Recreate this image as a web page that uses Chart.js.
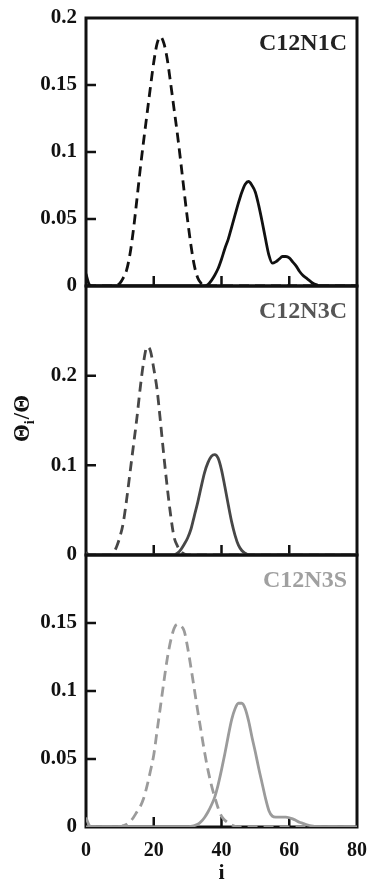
<!DOCTYPE html>
<html>
<head>
<meta charset="utf-8">
<title>Theta_i / Theta distributions</title>
<script src="https://cdn.jsdelivr.net/npm/chart.js@4.4.1/dist/chart.umd.min.js"></script>
<style>
  html, body { margin: 0; padding: 0; background: #fff; }
  body { width: 368px; height: 879px; position: relative; overflow: hidden; }
  canvas { position: absolute; left: 0; }
</style>
</head>
<body>
<canvas id="panel1" width="368" height="300" style="top:0px"></canvas>
<canvas id="panel2" width="368" height="297" style="top:272px"></canvas>
<canvas id="panel3" width="368" height="346" style="top:541px"></canvas>
<script>
// ---- data ----
const xTicks = [0, 20, 40, 60, 80];
const xInnerTicks = [20, 40, 60];

// C12N1C
const p1Ticks = [0, 0.05, 0.1, 0.15, 0.2];
const p1DashI = [0, 8, 9, 10, 11, 12, 13, 14, 15, 16, 17, 18, 19, 20, 21, 22, 23, 24, 25, 26, 27, 28, 29, 30, 31, 32, 33, 34, 35, 80];
const p1DashV = [0, 0, 0.0005, 0.002, 0.006, 0.012, 0.024, 0.042, 0.064, 0.087, 0.108, 0.128, 0.148, 0.167, 0.181, 0.186, 0.181, 0.169, 0.151, 0.132, 0.113, 0.092, 0.070, 0.049, 0.030, 0.015, 0.006, 0.002, 0, 0];
const p1SolidI = [0, 1, 2, 35, 36, 37, 38, 39, 40, 41, 42, 43, 44, 45, 46, 47, 48, 49, 50, 51, 52, 53, 54, 55, 56, 57, 58, 59, 60, 61, 62, 63, 64, 65, 66, 67, 68, 69, 80];
const p1SolidV = [0.009, 0.001, 0, 0, 0.001, 0.004, 0.008, 0.013, 0.020, 0.028, 0.035, 0.044, 0.053, 0.062, 0.070, 0.076, 0.078, 0.075, 0.070, 0.060, 0.048, 0.035, 0.023, 0.017, 0.018, 0.020, 0.022, 0.022, 0.021, 0.018, 0.015, 0.011, 0.008, 0.006, 0.004, 0.002, 0.001, 0, 0];

// C12N3C
const p2Ticks = [0, 0.1, 0.2];
const p2DashI = [0, 7, 8, 9, 10, 11, 12, 13, 14, 15, 16, 17, 18, 19, 20, 21, 22, 23, 24, 25, 26, 27, 28, 29, 30, 80];
const p2DashV = [0, 0, 0.002, 0.009, 0.020, 0.036, 0.062, 0.092, 0.122, 0.152, 0.186, 0.215, 0.232, 0.228, 0.208, 0.184, 0.148, 0.110, 0.075, 0.044, 0.020, 0.010, 0.004, 0.001, 0, 0];
const p2SolidI = [0, 1, 26, 27, 28, 29, 30, 31, 32, 33, 34, 35, 36, 37, 38, 39, 40, 41, 42, 43, 44, 45, 46, 47, 48, 80];
const p2SolidV = [0.003, 0, 0, 0.002, 0.006, 0.012, 0.019, 0.029, 0.044, 0.059, 0.076, 0.092, 0.103, 0.110, 0.112, 0.108, 0.095, 0.076, 0.056, 0.037, 0.022, 0.011, 0.005, 0.002, 0, 0];

// C12N3S
const p3Ticks = [0, 0.05, 0.1, 0.15];
const p3DashI = [0, 10, 11, 12, 13, 14, 15, 16, 17, 18, 19, 20, 21, 22, 23, 24, 25, 26, 27, 28, 29, 30, 31, 32, 33, 34, 35, 36, 37, 38, 39, 40, 41, 42, 43, 44, 45, 80];
const p3DashV = [0, 0, 0.001, 0.002, 0.004, 0.007, 0.011, 0.015, 0.021, 0.030, 0.041, 0.053, 0.071, 0.089, 0.107, 0.124, 0.137, 0.146, 0.149, 0.148, 0.144, 0.132, 0.117, 0.101, 0.085, 0.070, 0.055, 0.042, 0.031, 0.022, 0.014, 0.008, 0.005, 0.003, 0.0015, 0.0005, 0, 0];
const p3SolidI = [0, 1, 2, 30, 31, 32, 33, 34, 35, 36, 37, 38, 39, 40, 41, 42, 43, 44, 45, 46, 47, 48, 49, 50, 51, 52, 53, 54, 55, 56, 57, 58, 59, 60, 61, 62, 63, 64, 65, 66, 67, 68, 69, 70, 80];
const p3SolidV = [0.007, 0.001, 0, 0, 0.0005, 0.001, 0.002, 0.004, 0.007, 0.011, 0.016, 0.022, 0.031, 0.042, 0.054, 0.067, 0.079, 0.087, 0.091, 0.091, 0.087, 0.078, 0.066, 0.055, 0.043, 0.032, 0.021, 0.012, 0.008, 0.0072, 0.0072, 0.0072, 0.0072, 0.0068, 0.006, 0.0048, 0.0035, 0.0027, 0.0018, 0.0011, 0.0006, 0.0003, 0.0001, 0, 0];

const SERIF = '"Liberation Serif", "Times New Roman", serif';
Chart.defaults.font.family = SERIF;
Chart.defaults.font.weight = 'bold';
Chart.defaults.color = '#111';

// frame, inward tick marks, panel label and (panel 2 only) y title
const panelDecor = {
    id: 'panelDecor',
    beforeDatasetsDraw(chart, args, opts) {
        const { ctx, chartArea: a, scales } = chart;
        ctx.save();
        ctx.strokeStyle = '#111';
        ctx.lineWidth = 2.5;
        ctx.beginPath();
        xInnerTicks.forEach(v => {
            const px = scales.x.getPixelForValue(v);
            ctx.moveTo(px, a.bottom);
            ctx.lineTo(px, a.bottom - 10);
        });
        scales.y.ticks.forEach(t => {
            if (t.value === 0 || t.value >= scales.y.max) return;
            const py = scales.y.getPixelForValue(t.value);
            ctx.moveTo(a.left, py);
            ctx.lineTo(a.left + 10, py);
        });
        ctx.stroke();
        ctx.lineWidth = 3;
        ctx.strokeRect(a.left, a.top, a.right - a.left, a.bottom - a.top);
        ctx.restore();
    },
    afterDraw(chart, args, opts) {
        const { ctx, chartArea: a } = chart;
        ctx.save();
        ctx.font = 'bold 24px ' + SERIF;
        ctx.fillStyle = opts.labelColor;
        ctx.textAlign = 'right';
        ctx.textBaseline = 'middle';
        ctx.fillText(opts.label, a.right - 10, a.top + 26);

        if (opts.yTitle) {
            // Θ_i/Θ, rotated
            const big = 'bold 23px ' + SERIF;
            const small = 'bold 14px ' + SERIF;
            ctx.fillStyle = '#111';
            ctx.translate(23, (a.top + a.bottom) / 2 - 2);
            ctx.rotate(-Math.PI / 2);
            ctx.textAlign = 'left';
            ctx.font = big;
            const w1 = ctx.measureText('Θ').width;
            const w3 = ctx.measureText('/Θ').width;
            ctx.font = small;
            const w2 = ctx.measureText('i').width + 1;
            let x = -(w1 + w2 + w3) / 2;
            ctx.font = big;
            ctx.fillText('Θ', x, 0);
            x += w1;
            ctx.font = small;
            ctx.fillText('i', x, 7);
            x += w2;
            ctx.font = big;
            ctx.fillText('/Θ', x, 0);
        }
        ctx.restore();
    }
};

function makeSet(xs, ys, color, dashed) {
    return {
        data: xs.map((x, k) => ({ x: x, y: ys[k] })),
        borderColor: color,
        borderWidth: 2.8,
        borderDash: dashed ? [10, 6] : [],
        pointRadius: 0,
        fill: false,
        cubicInterpolationMode: 'monotone'
    };
}

function createPanel(id, sets, yMax, yTicks, label, labelColor, showX, padding, yTitle) {
    const ctx = document.getElementById(id);
    return new Chart(ctx, {
        type: 'line',
        data: { datasets: sets },
        options: {
            responsive: false,
            animation: false,
            layout: { padding: padding },
            plugins: {
                legend: { display: false },
                tooltip: { enabled: false },
                panelDecor: { label: label, labelColor: labelColor, yTitle: yTitle }
            },
            scales: {
                x: {
                    type: 'linear',
                    min: 0,
                    max: 80,
                    display: showX,
                    afterBuildTicks: s => { s.ticks = xTicks.map(v => ({ value: v })); },
                    afterFit: s => {
                        s.height = showX ? 60 : 0;
                        s.paddingLeft = 0;
                        s.paddingRight = 0;
                    },
                    grid: { display: false, drawTicks: false },
                    border: { display: false },
                    ticks: { font: { size: 20, weight: 'bold' }, color: '#111', padding: 12, maxRotation: 0 },
                    title: { display: true, text: 'i', font: { size: 22, weight: 'bold' }, color: '#111', padding: { top: 0, bottom: 0 } }
                },
                y: {
                    type: 'linear',
                    min: 0,
                    max: yMax,
                    afterBuildTicks: s => { s.ticks = yTicks.map(v => ({ value: v })); },
                    afterFit: s => {
                        s.width = 86;
                        s.paddingTop = 0;
                        s.paddingBottom = 0;
                    },
                    grid: { display: false, drawTicks: false },
                    border: { display: false },
                    ticks: { font: { size: 21, weight: 'bold' }, color: '#111', padding: 9, callback: v => String(v) }
                }
            }
        },
        plugins: [panelDecor]
    });
}

const c1 = '#111111', c2 = '#474747', c3 = '#9b9b9b';

createPanel('panel1',
    [makeSet(p1DashI, p1DashV, c1, true), makeSet(p1SolidI, p1SolidV, c1, false)],
    0.2, p1Ticks, 'C12N1C', '#222222', false, { top: 18, bottom: 14, left: 0, right: 11 }, false);

createPanel('panel2',
    [makeSet(p2DashI, p2DashV, c2, true), makeSet(p2SolidI, p2SolidV, c2, false)],
    0.3, p2Ticks, 'C12N3C', '#555555', false, { top: 14, bottom: 14, left: 0, right: 11 }, true);

createPanel('panel3',
    [makeSet(p3DashI, p3DashV, c3, true), makeSet(p3SolidI, p3SolidV, c3, false)],
    0.2, p3Ticks, 'C12N3S', '#a0a0a0', true, { top: 14, bottom: 0, left: 0, right: 11 }, false);
</script>
</body>
</html>
